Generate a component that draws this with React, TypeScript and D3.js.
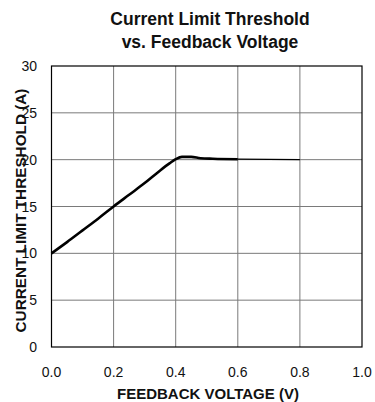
import React from "react";
import * as d3 from "d3";

const feedbackV = [0.0, 0.05, 0.1, 0.15, 0.2, 0.25, 0.3, 0.35, 0.38, 0.4, 0.42, 0.45, 0.48, 0.52, 0.6];
const currentA = [10.0, 11.2, 12.45, 13.7, 15.0, 16.25, 17.5, 18.85, 19.6, 20.05, 20.3, 20.3, 20.15, 20.1, 20.05];

// thin continuation to 0.8 V
const tailV = [0.6, 0.8];
const tailA = [20.05, 20.0];

const xTicks = [0, 0.2, 0.4, 0.6, 0.8, 1.0];
const yTicks = [0, 5, 10, 15, 20, 25, 30];

const titleLines = ["Current Limit Threshold", "vs. Feedback Voltage"];
const xTitle = "FEEDBACK VOLTAGE (V)";
const yTitle = "CURRENT LIMIT THRESHOLD (A)";

export default function App() {
    const width = 375;
    const height = 402;
    const plot = { left: 51.5, right: 362, top: 66, bottom: 347 };

    const x = d3.scaleLinear().domain([0, 1]).range([plot.left, plot.right]);
    const y = d3.scaleLinear().domain([0, 30]).range([plot.bottom, plot.top]);

    const line = d3
        .line<number>()
        .x((d) => x(d))
        .y((d, i) => y(currentA[i]))
        .curve(d3.curveMonotoneX);

    const tail = d3
        .line<number>()
        .x((d) => x(d))
        .y((d, i) => y(tailA[i]));

    const font = "'Liberation Sans', Arial, Helvetica, sans-serif";

    return (
        <svg
            width={width}
            height={height}
            style={{ position: "absolute", left: 0, top: 0, background: "#fff" }}
            fontFamily={font}
        >
            {/* title */}
            {titleLines.map((t, i) => (
                <text key={t} x={210} y={25 + i * 23} textAnchor="middle" fontSize={17.5} fontWeight="bold" fill="#111">
                    {t}
                </text>
            ))}

            {/* grid */}
            {xTicks.slice(1, -1).map((v) => (
                <line key={"gx" + v} x1={x(v)} x2={x(v)} y1={plot.top} y2={plot.bottom} stroke="#7a7a7a" strokeWidth={1} />
            ))}
            {yTicks.slice(1, -1).map((v) => (
                <line key={"gy" + v} x1={plot.left} x2={plot.right} y1={y(v)} y2={y(v)} stroke="#7a7a7a" strokeWidth={1} />
            ))}

            {/* frame */}
            <rect
                x={plot.left}
                y={plot.top}
                width={plot.right - plot.left}
                height={plot.bottom - plot.top}
                fill="none"
                stroke="#000"
                strokeWidth={1.2}
            />

            {/* data */}
            <path d={tail(tailV) || ""} fill="none" stroke="#000" strokeWidth={1.3} />
            <path d={line(feedbackV) || ""} fill="none" stroke="#000" strokeWidth={2.6} strokeLinejoin="round" />

            {/* x tick labels */}
            {xTicks.map((v) => (
                <text key={"tx" + v} x={x(v)} y={377} textAnchor="middle" fontSize={14} fill="#111">
                    {v.toFixed(1)}
                </text>
            ))}

            {/* y tick labels */}
            {yTicks.map((v) => (
                <text key={"ty" + v} x={37} y={y(v) + 5} textAnchor="end" fontSize={14} fill="#111">
                    {v}
                </text>
            ))}

            {/* axis titles */}
            <text x={208} y={399} textAnchor="middle" fontSize={15} fontWeight="bold" fill="#111">
                {xTitle}
            </text>
            <text
                transform={`translate(25.5, 210.5) rotate(-90)`}
                textAnchor="middle"
                fontSize={15.3}
                fontWeight="bold"
                fill="#111"
            >
                {yTitle}
            </text>
        </svg>
    );
}
